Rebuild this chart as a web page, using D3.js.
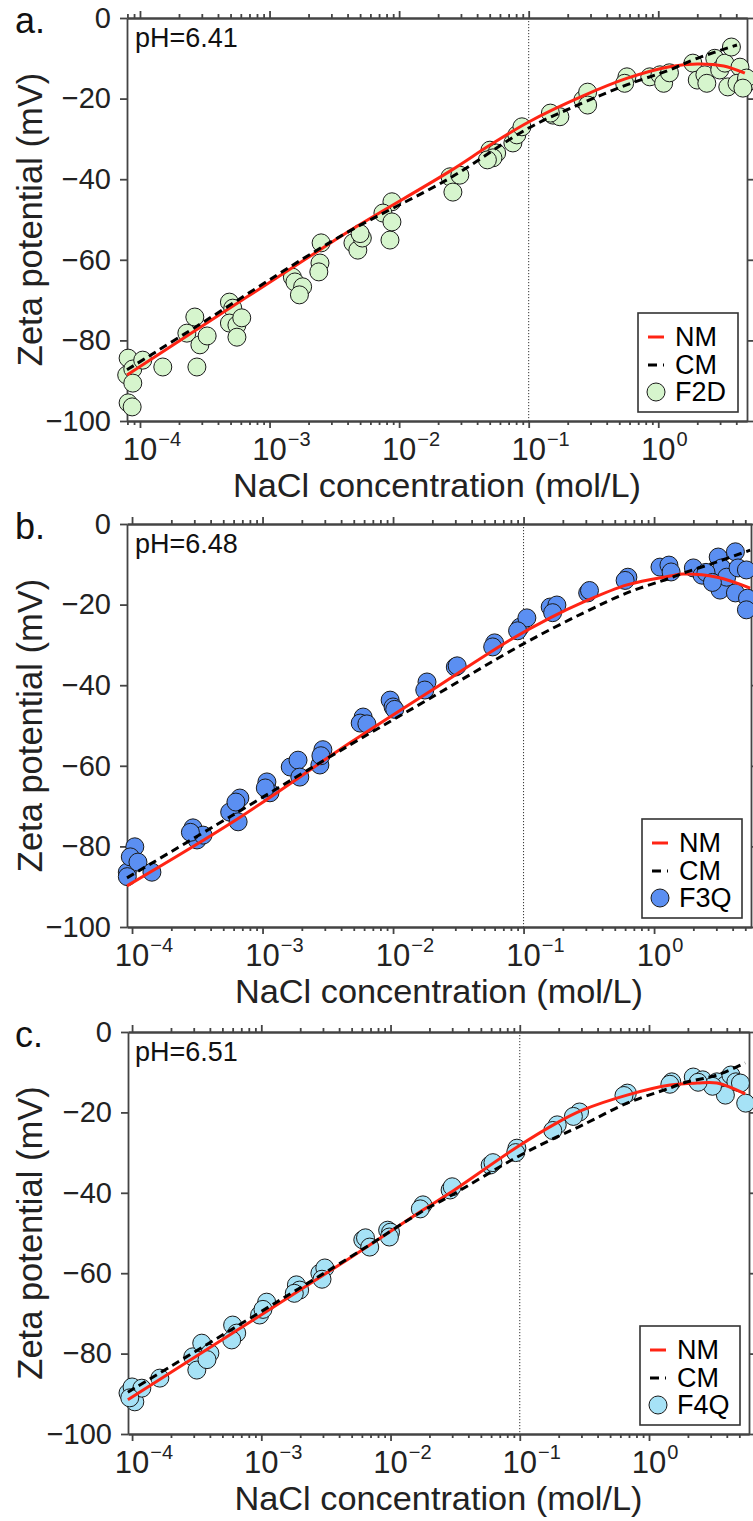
<!DOCTYPE html>
<html>
<head>
<meta charset="utf-8">
<script src="https://cdn.jsdelivr.net/npm/d3@7"></script>
<style>
  body { margin: 0; background: #fff; }
  svg text { font-family: Arial, "Liberation Sans", Helvetica, sans-serif; }
</style>
</head>
<body>
<svg id="fig" width="753" height="1521"></svg>
<script>
// ---- Sample F2D (panel a) ----
const f2dConc = [8.1e-5, 7.9e-5, 8.8e-5, 8.8e-5, 8.1e-5, 8.7e-5, 1.05e-4, 1.5e-4, 2.3e-4, 2.65e-4, 2.9e-4, 3.3e-4, 2.75e-4,
  4.9e-4, 5.2e-4, 4.9e-4, 5.6e-4, 6.1e-4, 5.6e-4, 1.5e-3, 1.57e-3, 1.8e-3, 1.7e-3, 2.5e-3, 2.45e-3, 2.4e-3,
  4.4e-3, 4.8e-3, 5.2e-3, 5.0e-3, 8.5e-3, 8.8e-3, 7.5e-3, 8.8e-3, 0.0247, 0.0294, 0.026, 0.0502, 0.0566, 0.053, 0.048,
  0.0755, 0.081, 0.0887, 0.154, 0.174, 0.147, 0.262, 0.285, 0.285, 0.573, 0.55, 0.86, 1.03, 1.1, 1.22,
  1.85, 2.0, 2.29, 2.37, 2.73, 2.98, 3.27, 3.67, 3.44, 4.27, 4.05, 4.66, 4.8, 4.5];
const f2dZeta = [-84.4, -88.6, -87.1, -90.6, -95.5, -96.5, -84.9, -86.6, -78.2, -74.2, -81.1, -78.9, -86.6,
  -70.5, -72, -75.7, -76.2, -74.4, -79.2, -64.3, -65.5, -66.7, -68.7, -55.8, -60.8, -63,
  -55.8, -57.6, -54.6, -53.5, -55.1, -45.6, -48.4, -50.6, -39.4, -39, -43.2, -32.8, -33.5, -34.7, -35.2,
  -31, -29, -27, -24.1, -24.5, -23.6, -20.3, -18.4, -21.6, -14.6, -16.2, -14.6, -14.1, -16.2, -13.6,
  -11.2, -15.4, -14.1, -16.2, -10, -12.9, -11.2, -7.2, -17.1, -12.2, -16.2, -16.6, -14.9, -17.4];
const nmConcA = [7.94e-5, 2.9e-4, 1.8e-3, 4.4e-3, 0.0247, 0.05, 0.1, 0.26, 0.57, 1.22, 2.0, 3.2, 4.66];
const nmZetaA = [-88.6, -76.8, -60.3, -52.3, -38.0, -31.6, -25.8, -19.4, -15, -12.1, -11.4, -11.9, -13.7];
const cmConcA = [7.94e-5, 2.9e-4, 1.8e-3, 4.4e-3, 0.0247, 0.1, 0.26, 0.57, 1.22, 2.0, 4.05];
const cmZetaA = [-87.3, -76, -59.8, -52.4, -39.7, -27.3, -21.1, -16.6, -12.9, -10, -6.7];

// ---- Sample F3Q (panel b) ----
const f3qConc = [9.2e-5, 1.05e-4, 9.7e-5, 1.11e-4, 1.42e-4, 9.2e-5, 2.93e-4, 3.15e-4, 3.5e-4, 2.8e-4,
  5.6e-4, 6.7e-4, 6.5e-4, 6.25e-4, 1.08e-3, 1.14e-3, 1.05e-3, 1.63e-3, 1.87e-3, 1.93e-3, 2.75e-3, 2.9e-3, 2.8e-3,
  5.9e-3, 5.6e-3, 6.3e-3, 9.5e-3, 1.0e-2, 1.03e-2, 0.0182, 0.0175, 0.030, 0.031, 0.060, 0.058, 0.094, 0.106, 0.090,
  0.160, 0.180, 0.167, 0.31, 0.32, 0.63, 0.60, 1.11, 1.30, 1.35, 2.0, 2.33, 3.1, 3.3, 3.2, 3.6, 4.2, 4.4, 4.2,
  5.1, 5.2, 5.1, 2.5, 2.8];
const f3qZeta = [-86.4, -80.1, -82.6, -83.9, -86.4, -87.5, -75.4, -78.4, -77.2, -76.5,
  -71.5, -68, -73.9, -69, -64, -66.7, -65.5, -60.3, -58.6, -62.8, -59.8, -56, -57.5,
  -47.9, -49.4, -49.6, -43.7, -45.4, -46, -39.2, -41.2, -35.5, -35.2, -29.5, -30.5, -25.6, -23.3, -26.5,
  -20.6, -20.1, -22, -17.1, -16.5, -13.2, -14, -10.7, -10.2, -11.9, -10.9, -12.7, -8.2, -10.9, -16.4, -13.2, -6.9, -10.9, -17.1,
  -11.4, -18.4, -21.3, -12, -14.5];
const nmConcB = [9.15e-5, 5.94e-4, 4.68e-3, 0.0182, 0.0788, 0.16, 0.286, 0.62, 1.33, 1.67, 3.04, 5.45];
const nmZetaB = [-89.8, -73.9, -54.3, -42, -28.8, -23.3, -19.4, -15.1, -12.9, -12.4, -13.2, -15.9];
const cmConcB = [9.15e-5, 5.94e-4, 4.68e-3, 0.0182, 0.099, 0.286, 0.62, 1.33, 1.67, 3.04, 5.45];
const cmZetaB = [-87.8, -72.2, -54.8, -43.7, -29.8, -22.1, -17.1, -13.4, -12.2, -9.4, -6.5];

// ---- Sample F4Q (panel c) ----
const f4qConc = [9.3e-5, 1.0e-4, 1.05e-4, 1.19e-4, 9.6e-5, 1.64e-4, 2.95e-4, 3.46e-4, 3.17e-4, 4.0e-4, 3.8e-4,
  6.0e-4, 6.45e-4, 5.9e-4, 9.7e-4, 1.1e-3, 1.03e-3, 1.87e-3, 1.98e-3, 1.8e-3, 2.84e-3, 3.1e-3, 2.95e-3,
  6.1e-3, 6.4e-3, 6.9e-3, 9.5e-3, 1.0e-2, 9.8e-3, 0.0178, 0.017, 0.0289, 0.030, 0.059, 0.062, 0.095, 0.093,
  0.195, 0.18, 0.29, 0.26, 0.68, 0.64, 1.5, 1.45, 2.2, 2.6, 3.35, 3.9, 4.3, 4.7, 5.1, 5.6, 3.9, 3.1, 2.4];
const f4qZeta = [-89.8, -88.3, -92, -88.6, -91, -86.1, -80.8, -77.4, -84.1, -79.9, -81.5,
  -72.9, -74.9, -76.6, -70.4, -67.2, -69, -62.9, -64.2, -65, -60, -58.7, -61.5,
  -51.7, -51.2, -53.5, -49.3, -49.8, -51, -43, -44, -39.3, -38.5, -33.1, -32.5, -28.9, -30,
  -23.1, -24.5, -19.9, -21, -15.2, -15.8, -12.4, -13, -11.2, -11.9, -12.4, -13.2, -10.7, -12.4, -12.7, -17.7, -15.7, -13.5, -12.5];
const nmConcC = [9.28e-5, 4.6e-3, 0.0178, 0.0289, 0.0955, 0.194, 0.308, 0.676, 1.46, 2.36, 3.36, 5.55];
const nmZetaC = [-91.5, -56.7, -44.3, -40, -28.6, -22.6, -19.4, -15.7, -13.2, -12.7, -12.7, -15.4];
const cmConcC = [9.28e-5, 4.6e-3, 0.0178, 0.0289, 0.0955, 0.194, 0.308, 0.676, 1.46, 1.83, 3.36, 5.55];
const cmZetaC = [-89.6, -56.5, -44.5, -40.8, -31.1, -26.1, -23.1, -17.7, -13.9, -12.7, -10.7, -7.7];

// ---- Shared labels and ticks ----
const panelLetters = ["a.", "b.", "c."];
const phLabels = ["pH=6.41", "pH=6.48", "pH=6.51"];
const sampleNames = ["F2D", "F3Q", "F4Q"];
const modelNames = ["NM", "CM"];
const yTicks = [0, -20, -40, -60, -80, -100];
const xDecades = [1e-4, 1e-3, 1e-2, 1e-1, 1];
const xExponents = ["\u22124", "\u22123", "\u22122", "\u22121", "0"];
const refConc = 0.1;
const xTitle = "NaCl concentration (mol/L)";
const yTitle = "Zeta potential (mV)";

// ---- Per-panel frame (pixels) and axis range ----
const frames = [
  { top: 18,   bottom: 421,  left: 127, right: 747, xMin: 7.94e-5, xMax: 4.84 },
  { top: 524,  bottom: 927,  left: 127, right: 751, xMin: 9.15e-5, xMax: 5.53 },
  { top: 1032, bottom: 1434, left: 128, right: 749, xMin: 9.3e-5,  xMax: 5.94 }
];
const fills = ["#d6f5cd", "#5b8ff2", "#a6e2f6"];

const panels = [
  { pts: [f2dConc, f2dZeta], nm: [nmConcA, nmZetaA], cm: [cmConcA, cmZetaA] },
  { pts: [f3qConc, f3qZeta], nm: [nmConcB, nmZetaB], cm: [cmConcB, cmZetaB] },
  { pts: [f4qConc, f4qZeta], nm: [nmConcC, nmZetaC], cm: [cmConcC, cmZetaC] }
];

const AXIS = "#444";
const TXT = "#222";
const RED = "#ff2414";
const FONT = 'Arial, "Liberation Sans", Helvetica, sans-serif';
const svg = d3.select("#fig");

function zip(a, b) { return a.map((v, i) => [v, b[i]]); }

function styleAxis(g) {
  g.selectAll(".domain, .tick line").attr("stroke", AXIS).attr("stroke-width", 1.8);
}

panels.forEach((p, k) => {
  const F = frames[k];
  const g = svg.append("g");
  const x = d3.scaleLog().domain([F.xMin, F.xMax]).range([F.left, F.right]);
  const y = d3.scaleLinear().domain([-100, 0]).range([F.bottom, F.top]);
  const minor = x.ticks().filter(v => !xDecades.some(d => Math.abs(d - v) / d < 1e-6));

  // reference line at 0.1 mol/L
  g.append("line")
    .attr("x1", x(refConc)).attr("x2", x(refConc))
    .attr("y1", F.top).attr("y2", F.bottom)
    .attr("stroke", "#333").attr("stroke-width", 1).attr("stroke-dasharray", "1.2,1.8");

  // bottom and top axes: majors + minors
  [["axisBottom", F.bottom], ["axisTop", F.top]].forEach(([fn, yy]) => {
    const gMin = g.append("g").attr("transform", `translate(0,${yy})`)
      .call(d3[fn](x).tickValues(minor).tickSizeInner(4).tickSizeOuter(0).tickFormat(""));
    const gMaj = g.append("g").attr("transform", `translate(0,${yy})`)
      .call(d3[fn](x).tickValues(xDecades).tickSizeInner(7).tickSizeOuter(0).tickFormat(""));
    styleAxis(gMin); styleAxis(gMaj);
  });

  // left axis with labels, right axis mirrored
  const gl = g.append("g").attr("transform", `translate(${F.left},0)`)
    .call(d3.axisLeft(y).tickValues(yTicks).tickSizeInner(7).tickSizeOuter(0).tickPadding(9));
  styleAxis(gl);
  gl.selectAll("text").attr("font-size", 29).attr("font-family", FONT).attr("fill", TXT);
  const gr = g.append("g").attr("transform", `translate(${F.right},0)`)
    .call(d3.axisRight(y).tickValues(yTicks).tickSizeInner(6).tickSizeOuter(0).tickFormat(""));
  styleAxis(gr);

  // decade labels 10^n
  xDecades.forEach((d, i) => {
    const cx = x(d);
    const base = g.append("text").attr("x", cx).attr("y", F.bottom + 39)
      .attr("text-anchor", "middle").attr("font-size", 31).attr("fill", TXT).text("10");
    const w = base.node().getComputedTextLength();
    g.append("text").attr("x", cx + w / 2 + 1).attr("y", F.bottom + 25)
      .attr("font-size", 20).attr("fill", TXT).text(xExponents[i]);
  });

  // axis titles
  g.append("text").attr("x", (F.left + F.right) / 2).attr("y", F.bottom + 76)
    .attr("text-anchor", "middle").attr("font-size", 33.5)
    .attr("textLength", 408).attr("lengthAdjust", "spacingAndGlyphs")
    .attr("fill", TXT).text(xTitle);
  g.append("text")
    .attr("transform", `translate(42,${(F.top + F.bottom) / 2}) rotate(-90)`)
    .attr("text-anchor", "middle").attr("font-size", 34.5).attr("fill", TXT).text(yTitle);

  // panel letter and pH note
  g.append("text").attr("x", 15).attr("y", F.top + 15).attr("font-size", 36).attr("fill", "#111").text(panelLetters[k]);
  g.append("text").attr("x", 135).attr("y", F.top + 29).attr("font-size", 27).attr("fill", "#111").text(phLabels[k]);

  // measured points
  g.append("g").selectAll("circle").data(zip(p.pts[0], p.pts[1])).join("circle")
    .attr("cx", d => x(d[0])).attr("cy", d => y(d[1])).attr("r", 9)
    .attr("fill", fills[k]).attr("stroke", "#1a1a1a").attr("stroke-width", 1);

  // model curves
  const line = d3.line().x(d => x(d[0])).y(d => y(d[1])).curve(d3.curveCatmullRom.alpha(0.5));
  g.append("path").attr("d", line(zip(p.nm[0], p.nm[1])))
    .attr("fill", "none").attr("stroke", RED).attr("stroke-width", 3);
  g.append("path").attr("d", line(zip(p.cm[0], p.cm[1])))
    .attr("fill", "none").attr("stroke", "#000").attr("stroke-width", 3).attr("stroke-dasharray", "8,5");

  // legend
  const LW = 100, LH = 99;
  const lg = g.append("g").attr("transform", `translate(${F.right - 9 - LW},${F.bottom - 9 - LH})`);
  lg.append("rect").attr("width", LW).attr("height", LH)
    .attr("fill", "#fff").attr("stroke", "#333").attr("stroke-width", 1.6);
  const rowY = [24, 52, 79];
  lg.append("line").attr("x1", 10).attr("x2", 26).attr("y1", rowY[0]).attr("y2", rowY[0])
    .attr("stroke", RED).attr("stroke-width", 3);
  lg.append("line").attr("x1", 10).attr("x2", 26).attr("y1", rowY[1]).attr("y2", rowY[1])
    .attr("stroke", "#000").attr("stroke-width", 3).attr("stroke-dasharray", "9,6");
  lg.append("circle").attr("cx", 18).attr("cy", rowY[2]).attr("r", 9)
    .attr("fill", fills[k]).attr("stroke", "#1a1a1a").attr("stroke-width", 1);
  [modelNames[0], modelNames[1], sampleNames[k]].forEach((t, i) => {
    lg.append("text").attr("x", 37).attr("y", rowY[i] + 9).attr("font-size", 27).attr("fill", "#000").text(t);
  });
});
</script>
</body>
</html>
